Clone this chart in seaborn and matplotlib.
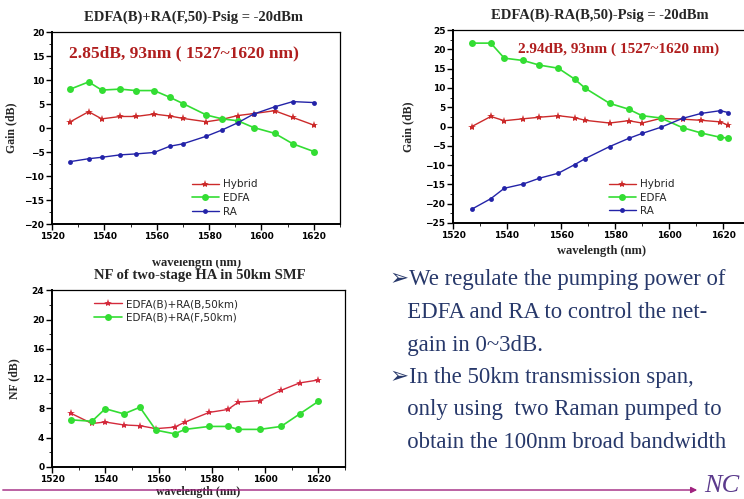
import numpy as np
import pandas as pd
import matplotlib
matplotlib.use("Agg")
import matplotlib.pyplot as plt
import seaborn as sns
from matplotlib.patches import FancyArrowPatch, Rectangle
from matplotlib.ticker import MultipleLocator

sns.set_theme(style="white")
plt.rcParams['font.family'] = ['DejaVu Sans']

# ---------------- data ----------------
wl1 = [1527, 1534, 1539, 1546, 1552, 1559, 1565, 1570, 1579, 1585, 1591, 1597, 1605, 1612, 1620]
hyb1 = [1.3, 3.4, 1.9, 2.4, 2.4, 2.9, 2.5, 2.0, 1.3, 1.8, 2.6, 3.0, 3.6, 2.2, 0.6]
edfa1 = [8.1, 9.6, 7.9, 8.1, 7.8, 7.8, 6.4, 5.1, 2.7, 1.9, 1.5, 0.1, -1.1, -3.3, -4.9]
ra1 = [-7.0, -6.4, -6.1, -5.6, -5.4, -5.1, -3.8, -3.3, -1.7, -0.4, 1.1, 2.9, 4.4, 5.5, 5.3]

wl2 = [1527, 1534, 1539, 1546, 1552, 1559, 1565, 1569, 1578, 1585, 1590, 1597, 1605, 1612, 1619, 1622]
hyb2 = [0.0, 2.6, 1.5, 2.0, 2.4, 2.8, 2.3, 1.6, 0.9, 1.5, 0.9, 2.1, 1.9, 1.6, 1.2, 0.3]
edfa2 = [21.6, 21.6, 17.7, 17.1, 15.9, 15.1, 12.3, 9.9, 6.0, 4.5, 2.8, 2.2, -0.3, -1.7, -2.8, -3.0]
ra2 = [-21.4, -18.7, -16.0, -14.9, -13.4, -12.1, -9.9, -8.3, -5.2, -3.1, -1.8, -0.2, 2.1, 3.4, 4.1, 3.6]

wl3 = [1527, 1535, 1540, 1547, 1553, 1559, 1566, 1570, 1579, 1586, 1590, 1598, 1606, 1613, 1620]
nf_b = [7.3, 5.9, 6.1, 5.7, 5.6, 5.2, 5.4, 6.1, 7.4, 7.8, 8.8, 9.0, 10.4, 11.4, 11.8]
nf_f = [6.4, 6.2, 7.9, 7.2, 8.1, 5.0, 4.5, 5.1, 5.5, 5.5, 5.1, 5.1, 5.5, 7.2, 8.9]

title1 = "EDFA(B)+RA(F,50)-Psig = -20dBm"
title2 = "EDFA(B)-RA(B,50)-Psig = -20dBm"
title3 = "NF of two-stage HA in 50km SMF"
note1 = "2.85dB, 93nm ( 1527~1620 nm)"
note2 = "2.94dB, 93nm ( 1527~1620 nm)"
gain_labels = ["Hybrid", "EDFA", "RA"]
nf_labels = ["EDFA(B)+RA(B,50km)", "EDFA(B)+RA(F,50km)"]
bullets = ["\u27a2We regulate the pumping power of",
           "   EDFA and RA to control the net-",
           "   gain in 0~3dB.",
           "\u27a2In the 50km transmission span,",
           "   only using  two Raman pumped to",
           "   obtain the 100nm broad bandwidth"]

RED = "#cc2a2a"
GREEN = "#33dd33"
BLUE = "#2323a8"
NOTE = "#b01e1e"
TXT = "#27386a"

W, H = 744, 499
fig = plt.figure(figsize=(W / 100, H / 100), dpi=100)
fig.patch.set_facecolor("white")


def axes_px(l, t, r, b):
    return fig.add_axes([l / W, 1 - b / H, (r - l) / W, (b - t) / H])


def style_axes(ax, ymaj, ymin):
    ax.set_facecolor("white")
    ax.set_xlim(1520, 1630)
    ax.xaxis.set_major_locator(MultipleLocator(20))
    ax.xaxis.set_minor_locator(MultipleLocator(10))
    ax.yaxis.set_major_locator(MultipleLocator(ymaj))
    ax.yaxis.set_minor_locator(MultipleLocator(ymin))
    for s in ["left", "bottom"]:
        ax.spines[s].set_linewidth(1.4)
        ax.spines[s].set_color("black")
    for s in ["top", "right"]:
        ax.spines[s].set_linewidth(0.9)
        ax.spines[s].set_color("black")
    ax.tick_params(which="major", direction="out", length=4, width=1.0,
                   labelsize=6.5, pad=1.5, colors="black", left=True, bottom=True)
    ax.tick_params(which="minor", direction="out", length=2, width=0.7,
                   left=True, bottom=True)
    for lab in ax.get_xticklabels() + ax.get_yticklabels():
        lab.set_fontweight("heavy")
    ax.grid(False)


serif = "Liberation Serif"

# ---------------- chart 1 ----------------
ax1 = axes_px(52, 32, 340, 224)
df1 = pd.DataFrame({"wl": wl1, "Hybrid": hyb1, "EDFA": edfa1, "RA": ra1})
sns.lineplot(data=df1, x="wl", y="Hybrid", ax=ax1, color=RED, lw=1.0, marker="*",
             markersize=6, markeredgewidth=0, label=gain_labels[0])
sns.lineplot(data=df1, x="wl", y="EDFA", ax=ax1, color=GREEN, lw=1.2, marker="o",
             markersize=5, markeredgewidth=0, label=gain_labels[1])
sns.lineplot(data=df1, x="wl", y="RA", ax=ax1, color=BLUE, lw=1.0, marker="o",
             markersize=3.5, markeredgewidth=0, label=gain_labels[2])
ax1.set_ylim(-20, 20)
style_axes(ax1, 5, 2.5)
ax1.set_xlabel("wavelength (nm)", family=serif, fontweight="bold", fontsize=9, labelpad=12)
ax1.set_ylabel("Gain (dB)", family=serif, fontweight="bold", fontsize=8.5, labelpad=5)
ax1.legend(loc="lower left", bbox_to_anchor=(0.46, 0.0), frameon=False, fontsize=7.5,
           handlelength=2.6, labelspacing=0.35, borderaxespad=0.3, handletextpad=0.4)
ax1.text(0.06, 0.89, note1, transform=ax1.transAxes, family=serif, fontweight="bold",
         fontsize=12.5, color=NOTE, va="center", ha="left")
fig.text(193 / W, 1 - 17 / H, title1, family=serif, fontweight="bold", fontsize=10.5,
         ha="center", va="center")

# ---------------- chart 2 ----------------
ax2 = axes_px(453, 30, 750, 223)
df2 = pd.DataFrame({"wl": wl2, "Hybrid": hyb2, "EDFA": edfa2, "RA": ra2})
sns.lineplot(data=df2, x="wl", y="Hybrid", ax=ax2, color=RED, lw=1.0, marker="*",
             markersize=6, markeredgewidth=0, label=gain_labels[0])
sns.lineplot(data=df2, x="wl", y="EDFA", ax=ax2, color=GREEN, lw=1.2, marker="o",
             markersize=5, markeredgewidth=0, label=gain_labels[1])
sns.lineplot(data=df2, x="wl", y="RA", ax=ax2, color=BLUE, lw=1.0, marker="o",
             markersize=3.5, markeredgewidth=0, label=gain_labels[2])
ax2.set_ylim(-25, 25)
style_axes(ax2, 5, 2.5)
ax2.set_xlabel("wavelength (nm)", family=serif, fontweight="bold", fontsize=9, labelpad=4)
ax2.set_ylabel("Gain (dB)", family=serif, fontweight="bold", fontsize=8.5, labelpad=8)
ax2.legend(loc="lower left", bbox_to_anchor=(0.50, 0.0), frameon=False, fontsize=7.5,
           handlelength=2.6, labelspacing=0.3, borderaxespad=0.3, handletextpad=0.4)
ax2.text(0.22, 0.90, note2, transform=ax2.transAxes, family=serif, fontweight="bold",
         fontsize=11, color=NOTE, va="center", ha="left")
fig.text(600 / W, 1 - 15 / H, title2, family=serif, fontweight="bold", fontsize=10.5,
         ha="center", va="center")

# ---------------- chart 3 ----------------
ax3 = axes_px(52, 290, 345, 467)
df3 = pd.DataFrame({"wl": wl3, "B": nf_b, "F": nf_f})
sns.lineplot(data=df3, x="wl", y="B", ax=ax3, color="#d42a3c", lw=1.0, marker="*",
             markersize=6, markeredgewidth=0, label=nf_labels[0])
sns.lineplot(data=df3, x="wl", y="F", ax=ax3, color=GREEN, lw=1.2, marker="o",
             markersize=5, markeredgewidth=0, label=nf_labels[1])
ax3.set_ylim(0, 24)
style_axes(ax3, 4, 2)
ax3.set_xlabel("wavelength (nm)", family=serif, fontweight="bold", fontsize=8.5, labelpad=2)
ax3.set_ylabel("NF (dB)", family=serif, fontweight="bold", fontsize=8.5, labelpad=8)
ax3.legend(loc="upper left", bbox_to_anchor=(0.12, 0.99), frameon=False, fontsize=7.5,
           handlelength=2.6, labelspacing=0.3, borderaxespad=0.3, handletextpad=0.4)
fig.text(200 / W, 1 - 276 / H, title3, family=serif, fontweight="bold", fontsize=10.5,
         ha="center", va="center")

# cover upper part of chart-1 x label (as in the slide)
fig.add_artist(Rectangle((0, 1 - 260 / H), 370 / W, 14 / H, transform=fig.transFigure,
                         facecolor="white", edgecolor="none", zorder=5))

# ---------------- text block ----------------
ys = [280, 313, 345, 378, 410, 442]
for s, y in zip(bullets, ys):
    fig.text(390 / W, 1 - y / H, s, family=[serif, "DejaVu Sans"], fontsize=16.4,
             color=TXT, ha="left", va="center")

# ---------------- bottom decoration ----------------
fig.add_artist(FancyArrowPatch((0, 1 - 490 / H), (700 / W, 1 - 490 / H),
                               transform=fig.transFigure, arrowstyle="-|>",
                               mutation_scale=9, color="#a0237f", lw=1.0, zorder=6))
fig.text(704 / W, 1 - 486 / H, "NC", family=serif, fontstyle="italic", fontsize=19,
         color="#5b3a8c", ha="left", va="center")

fig.savefig("out.png", dpi=100, facecolor="white")
